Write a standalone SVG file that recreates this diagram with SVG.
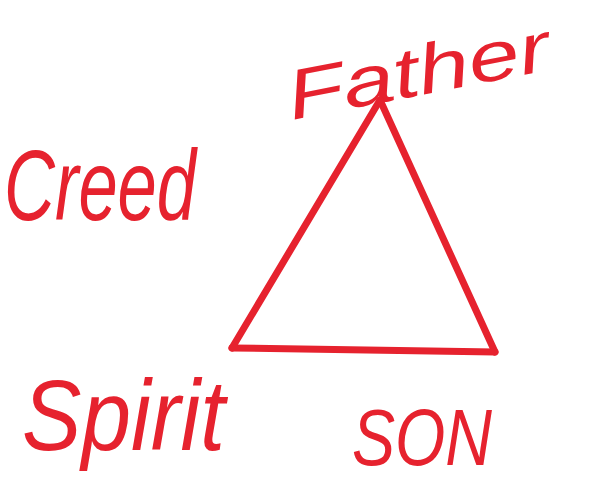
<svg xmlns="http://www.w3.org/2000/svg" width="598" height="481" viewBox="0 0 598 481">
<style>
.ink{fill:#e6222e;font-family:"Liberation Sans",Arial,sans-serif;font-style:italic;}
.edge{stroke:#e6222e;stroke-width:7;stroke-linecap:round;fill:none;}
</style>
<rect width="598" height="481" fill="#ffffff"/>
<g id="creed"><text class="ink" x="4" y="220" font-size="100" textLength="192" lengthAdjust="spacingAndGlyphs">Creed</text></g>
<g id="father"><text class="ink" x="292" y="120" font-size="70" textLength="266" lengthAdjust="spacingAndGlyphs" transform="rotate(-11 292 120)">Father</text></g>
<g id="spirit"><text class="ink" x="22" y="450" font-size="100" textLength="203" lengthAdjust="spacingAndGlyphs">Spirit</text></g>
<g id="son"><text class="ink" x="352" y="465" font-size="80" textLength="140" lengthAdjust="spacingAndGlyphs">SON</text></g>
<g id="connectors">
<line class="edge" x1="380" y1="100" x2="232" y2="348"/>
<line class="edge" x1="380" y1="100" x2="495" y2="352"/>
<line class="edge" x1="232" y1="348" x2="495" y2="352"/>
</g>
</svg>
